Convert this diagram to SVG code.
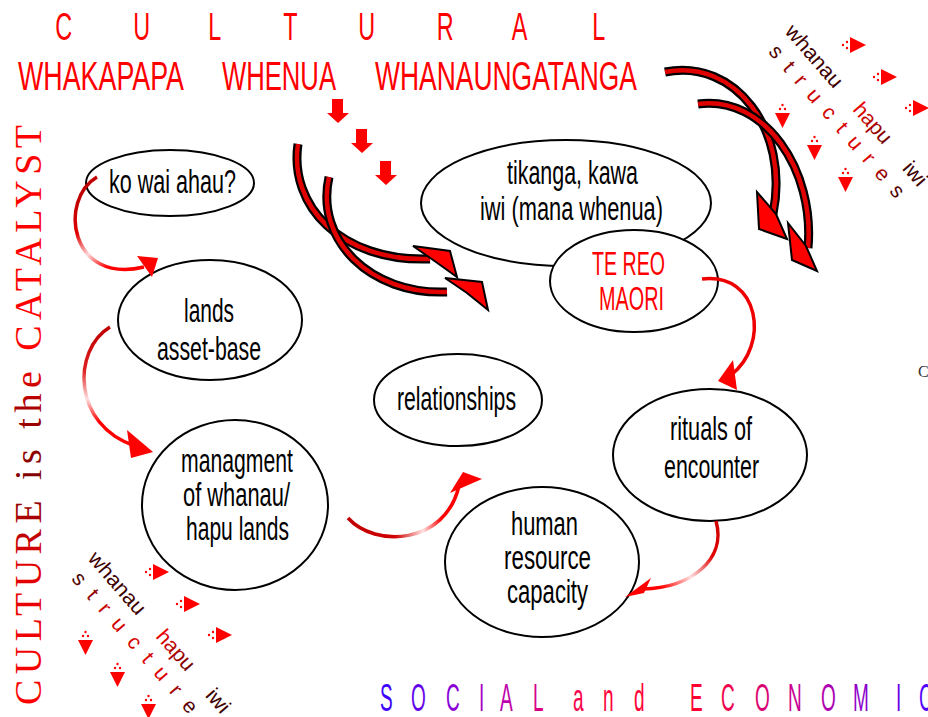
<svg xmlns="http://www.w3.org/2000/svg" width="928" height="717" viewBox="0 0 928 717">
<style>
.nt{font-family:"Liberation Sans",Arial,sans-serif;font-size:33px;fill:#000}
.red{fill:#ff0000}
.head{font-family:"Liberation Sans",Arial,sans-serif;fill:#ff0000}
.ell{fill:#fff;stroke:#000;stroke-width:2}
.st{font-family:"Liberation Sans",Arial,sans-serif;font-size:21px}
.band-o{fill:none;stroke:#000;stroke-width:9}
.band-i{fill:none;stroke:#e00000;stroke-width:4.5}
.bhead{fill:#ff0000;stroke:#000;stroke-width:2;stroke-linejoin:miter}
.thin{fill:none;stroke-width:3.5;stroke-linecap:butt}
.ah{fill:#ff0000}
</style>
<defs>
<linearGradient id="gSocial" gradientUnits="userSpaceOnUse" x1="760" y1="0" x2="1856" y2="0">
<stop offset="0" stop-color="#3a00ff"/>
<stop offset="0.2" stop-color="#b000c0"/>
<stop offset="0.38" stop-color="#ff0040"/>
<stop offset="0.58" stop-color="#ff0030"/>
<stop offset="0.78" stop-color="#c000a0"/>
<stop offset="1" stop-color="#5000ff"/>
</linearGradient>
<linearGradient id="gCult" x1="0" y1="0" x2="1" y2="0">
<stop offset="0" stop-color="#ff0000"/>
<stop offset="0.25" stop-color="#e00000"/>
<stop offset="0.38" stop-color="#800000"/>
<stop offset="0.5" stop-color="#a00000"/>
<stop offset="0.6" stop-color="#ff0000"/>
<stop offset="1" stop-color="#ff0000"/>
</linearGradient>
<linearGradient id="gStruct" x1="0" y1="0" x2="1" y2="0">
<stop offset="0" stop-color="#400000"/>
<stop offset="0.25" stop-color="#cc0000"/>
<stop offset="0.75" stop-color="#dd0000"/>
<stop offset="1" stop-color="#400000"/>
</linearGradient>
<linearGradient id="gHapu" x1="0" y1="0" x2="1" y2="0">
<stop offset="0" stop-color="#ee0000"/>
<stop offset="1" stop-color="#700000"/>
</linearGradient>
<linearGradient id="gA1" gradientUnits="userSpaceOnUse" x1="80" y1="200" x2="130" y2="270">
<stop offset="0" stop-color="#c00000"/>
<stop offset="0.3" stop-color="#e00000"/>
<stop offset="0.57" stop-color="#ffd8d8"/>
<stop offset="0.82" stop-color="#ff0000"/>
</linearGradient>
<linearGradient id="gA2" gradientUnits="userSpaceOnUse" x1="0" y1="330" x2="0" y2="445">
<stop offset="0" stop-color="#c00000"/>
<stop offset="0.35" stop-color="#e02020"/>
<stop offset="0.6" stop-color="#ffe0e0"/>
<stop offset="0.8" stop-color="#ff0000"/>
</linearGradient>
<linearGradient id="gA3" gradientUnits="userSpaceOnUse" x1="348" y1="0" x2="465" y2="0">
<stop offset="0" stop-color="#c00000"/>
<stop offset="0.4" stop-color="#d00000"/>
<stop offset="0.64" stop-color="#ffe0e0"/>
<stop offset="0.8" stop-color="#ff0000"/>
</linearGradient>
<linearGradient id="gA5" gradientUnits="userSpaceOnUse" x1="716" y1="521" x2="640" y2="590">
<stop offset="0" stop-color="#d00000"/>
<stop offset="0.25" stop-color="#e00000"/>
<stop offset="0.55" stop-color="#ffe0e0"/>
<stop offset="0.83" stop-color="#ff0000"/>
</linearGradient>
<g id="smallArrows" fill="#ff0000">
<polygon points="850,37 850,53 866,45"/><circle cx="843" cy="45" r="1.2"/><circle cx="847" cy="42" r="1.2"/><circle cx="847" cy="48" r="1.2"/>
<polygon points="881,69 881,85 897,77"/><circle cx="874" cy="77" r="1.2"/><circle cx="878" cy="74" r="1.2"/><circle cx="878" cy="80" r="1.2"/>
<polygon points="913,100 913,116 929,108"/><circle cx="906" cy="108" r="1.2"/><circle cx="910" cy="105" r="1.2"/><circle cx="910" cy="111" r="1.2"/>
<polygon points="775,113 790,113 782.5,128"/><circle cx="782.5" cy="105" r="1.2"/><circle cx="780" cy="109" r="1.2"/><circle cx="785" cy="109" r="1.2"/>
<polygon points="807,145 822,145 814.5,160"/><circle cx="814.5" cy="137" r="1.2"/><circle cx="812" cy="141" r="1.2"/><circle cx="817" cy="141" r="1.2"/>
<polygon points="838,177 853,177 845.5,192"/><circle cx="845.5" cy="169" r="1.2"/><circle cx="843" cy="173" r="1.2"/><circle cx="848" cy="173" r="1.2"/>
</g>
</defs>
<rect width="928" height="717" fill="#fff"/>

<g id="title">
<text class="head" font-size="39" transform="scale(0.6,1)" x="92 222 347 472 597 728 853 987" y="40">CULTURAL</text>
<text class="head" font-size="41" x="18" y="90" textLength="166" lengthAdjust="spacingAndGlyphs">WHAKAPAPA</text>
<text class="head" font-size="41" x="222" y="90" textLength="114" lengthAdjust="spacingAndGlyphs">WHENUA</text>
<text class="head" font-size="41" x="375" y="90" textLength="262" lengthAdjust="spacingAndGlyphs">WHANAUNGATANGA</text>
</g>

<g id="block-arrows" fill="#ff0000">
<polygon points="332,99 343,99 343,113 349,113 338,123 327,113 332,113"/>
<polygon points="356,129 367,129 367,143 373,143 362,153 351,143 356,143"/>
<polygon points="380,161 391,161 391,175 397,175 386,185 375,175 380,175"/>
</g>

<g id="side-title">
<text transform="translate(41,705) rotate(-90)" font-family="'Liberation Serif','Times New Roman',serif" font-size="38" fill="url(#gCult)" textLength="580" lengthAdjust="spacing">CULTURE is the CATALYST</text>
</g>

<g id="bottom-title">
<text transform="scale(0.5,1)" font-family="'Liberation Sans',Arial,sans-serif" font-size="38" fill="url(#gSocial)" x="760 822 892 958 1000 1066 1146 1206 1268 1380 1442 1510 1576 1642 1706 1792 1838" y="711">SOCIALandECONOMIC</text>
</g>

<text x="918" y="377" font-family="'Liberation Serif','Times New Roman',serif" font-size="16" fill="#333">C</text>

<g id="structures-top">
<use href="#smallArrows"/>
<text class="st" fill="#3d0000" transform="translate(784,32) rotate(49)" textLength="76" lengthAdjust="spacingAndGlyphs">whanau</text>
<text class="st" fill="url(#gStruct)" transform="translate(767.7,52.2) rotate(49)" textLength="195" lengthAdjust="spacing">s t r u c t u r e s</text>
<text class="st" fill="url(#gHapu)" transform="translate(852,110) rotate(49)" textLength="47" lengthAdjust="spacingAndGlyphs">hapu</text>
<text class="st" fill="#3d0000" transform="translate(901.6,169) rotate(49)" textLength="25" lengthAdjust="spacingAndGlyphs">iwi</text>
</g>

<g id="structures-bottom">
<use href="#smallArrows" transform="translate(-697,527)"/>
<text class="st" fill="#3d0000" transform="translate(87,559) rotate(49)" textLength="76" lengthAdjust="spacingAndGlyphs">whanau</text>
<text class="st" fill="url(#gStruct)" transform="translate(70.7,579.2) rotate(49)" textLength="180" lengthAdjust="spacing">s t r u c t u r e</text>
<text class="st" fill="url(#gHapu)" transform="translate(155,637) rotate(49)" textLength="47" lengthAdjust="spacingAndGlyphs">hapu</text>
<text class="st" fill="#3d0000" transform="translate(204.6,696) rotate(49)" textLength="25" lengthAdjust="spacingAndGlyphs">iwi</text>
</g>

<g id="node-kowai">
<ellipse class="ell" cx="170" cy="183" rx="84" ry="33"/>
<text class="nt" font-size="38" x="109" y="193" textLength="127" lengthAdjust="spacingAndGlyphs">ko wai ahau?</text>
</g>
<g id="node-lands">
<ellipse class="ell" cx="210" cy="320" rx="92" ry="60"/>
<text class="nt" x="184" y="322" textLength="50" lengthAdjust="spacingAndGlyphs">lands</text>
<text class="nt" x="157" y="360" textLength="104" lengthAdjust="spacingAndGlyphs">asset-base</text>
</g>
<g id="node-managment">
<ellipse class="ell" cx="235" cy="505" rx="93" ry="85"/>
<text class="nt" x="181" y="472" textLength="112" lengthAdjust="spacingAndGlyphs">managment</text>
<text class="nt" x="183" y="506" textLength="107" lengthAdjust="spacingAndGlyphs">of whanau/</text>
<text class="nt" x="186" y="540" textLength="103" lengthAdjust="spacingAndGlyphs">hapu lands</text>
</g>
<g id="node-relationships">
<ellipse class="ell" cx="458" cy="400" rx="84" ry="46"/>
<text class="nt" x="397" y="410" textLength="119" lengthAdjust="spacingAndGlyphs">relationships</text>
</g>
<g id="node-tikanga">
<ellipse class="ell" cx="566" cy="203" rx="145" ry="63"/>
<text class="nt" x="507" y="184" textLength="131" lengthAdjust="spacingAndGlyphs">tikanga, kawa</text>
<text class="nt" x="480" y="220" textLength="183" lengthAdjust="spacingAndGlyphs">iwi (mana whenua)</text>
</g>
<g id="node-tereo">
<ellipse class="ell" cx="634" cy="281" rx="84" ry="51"/>
<text class="nt red" font-size="35" x="592" y="275" textLength="73" lengthAdjust="spacingAndGlyphs">TE REO</text>
<text class="nt red" font-size="35" x="599" y="310" textLength="65" lengthAdjust="spacingAndGlyphs">MAORI</text>
</g>
<g id="node-rituals">
<ellipse class="ell" cx="710" cy="455" rx="97" ry="66"/>
<text class="nt" x="670" y="440" textLength="82" lengthAdjust="spacingAndGlyphs">rituals of</text>
<text class="nt" x="664" y="478" textLength="95" lengthAdjust="spacingAndGlyphs">encounter</text>
</g>
<g id="node-human">
<ellipse class="ell" cx="542" cy="562" rx="97" ry="75"/>
<text class="nt" x="511" y="535" textLength="67" lengthAdjust="spacingAndGlyphs">human</text>
<text class="nt" x="504" y="569" textLength="87" lengthAdjust="spacingAndGlyphs">resource</text>
<text class="nt" x="507" y="603" textLength="81" lengthAdjust="spacingAndGlyphs">capacity</text>
</g>

<g id="connectors">
<path class="thin" stroke="url(#gA1)" d="M97,177 C58,200 70,285 144,267"/>
<polygon class="ah" points="137,256 158,258 152,277"/>
<path class="thin" stroke="url(#gA2)" d="M110,327 C72,350 72,425 135,446"/>
<polygon class="ah" points="127,430 153,452 131,458"/>
<path class="thin" stroke="url(#gA3)" d="M348,518 C375,548 445,545 459,486"/>
<polygon class="ah" points="450,493 463,472 482,479"/>
<path class="thin" stroke="#ee0000" d="M702,279 C760,272 770,345 731,375"/>
<polygon class="ah" points="718,381 733,360 737,390"/>
<path class="thin" stroke="url(#gA5)" d="M716,521 C727,560 690,588 643,589"/>
<polygon class="ah" points="651,578 625,597 644,593"/>

<path class="band-o" d="M298,144 C289,205 340,262 430,259"/>
<path class="band-i" d="M298,144 C289,205 340,262 430,259"/>
<polygon class="bhead" points="413,246 450,251 457,277 436,262"/>
<path class="band-o" d="M329,177 C315,240 370,295 447,292"/>
<path class="band-i" d="M329,177 C315,240 370,295 447,292"/>
<polygon class="bhead" points="445,278 482,282 488,310 467,293"/>
<path class="band-o" d="M665,72 C735,58 790,130 773,214"/>
<path class="band-i" d="M665,72 C735,58 790,130 773,214"/>
<polygon class="bhead" points="757,192 759,229 787,239 776,214"/>
<path class="band-o" d="M698,104 C765,95 815,170 808,248"/>
<path class="band-i" d="M698,104 C765,95 815,170 808,248"/>
<polygon class="bhead" points="788,223 792,260 817,271 806,246"/>
</g>
</svg>
